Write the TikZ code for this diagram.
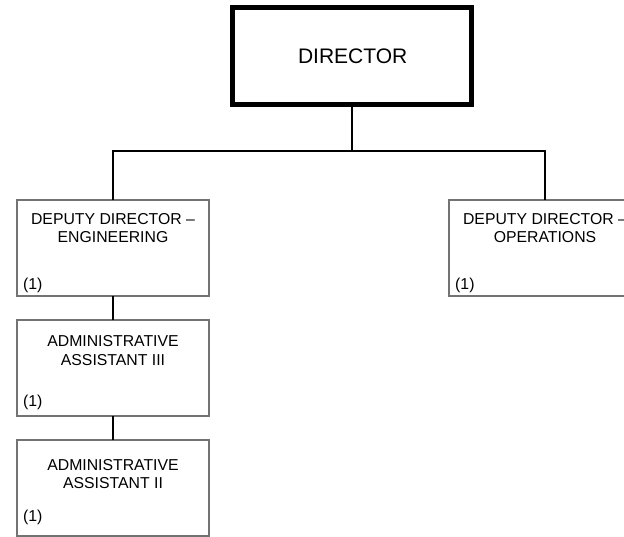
\documentclass[tikz,border=0pt]{standalone}
\usepackage{fontspec}
\setmainfont{Liberation Sans}
\begin{document}
\begin{tikzpicture}[x=1bp,y=-1bp,
  box/.style={draw=black!55,line width=1.3bp,minimum width=192bp,minimum height=96bp,inner sep=0pt,outer sep=0pt},
  topbox/.style={draw=black,line width=5bp,minimum width=239.5bp,minimum height=96.5bp,inner sep=0pt,outer sep=0pt},
  conn/.style={draw=black,line width=1.8bp},
  txt/.style={anchor=base,inner sep=0pt,font=\fontsize{15.86}{19}\selectfont},
  num/.style={anchor=base west,inner sep=0pt,font=\fontsize{15.86}{19}\selectfont},
  bigtxt/.style={anchor=base,inner sep=0pt,font=\fontsize{21.1}{25}\selectfont}]
\useasboundingbox (0,0) rectangle (624,537);
\clip (0,0) rectangle (624,537);
% boxes
\node[topbox] (dir) at (352.2,55.8) {};
\node[box] (eng) at (113,248) {};
\node[box] (ops) at (545,248) {};
\node[box] (aa3) at (113,368) {};
\node[box] (aa2) at (113,488) {};
% connectors
\coordinate (hub) at (352.2,151);
\draw[conn] (dir.south) -- (hub);
\draw[conn] (eng.north) |- (hub);
\draw[conn] (hub) -| (ops.north);
\draw[conn] (eng.south) -- (aa3.north);
\draw[conn] (aa3.south) -- (aa2.north);
% texts
\node[bigtxt] (dirT) at (352.7,63.3) {DIRECTOR};
\node[txt] (engT1) at (113,224.3) {DEPUTY DIRECTOR –};
\node[txt] (engT2) at (113,242.7) {ENGINEERING};
\node[num] (engN) at (23,289.5) {(1)};
\node[txt] (opsT1) at (545,224.3) {DEPUTY DIRECTOR –};
\node[txt] (opsT2) at (545,242.7) {OPERATIONS};
\node[num] (opsN) at (455,289.5) {(1)};
\node[txt] (aa3T1) at (113,346.7) {ADMINISTRATIVE};
\node[txt] (aa3T2) at (113,365.7) {ASSISTANT III};
\node[num] (aa3N) at (23,406) {(1)};
\node[txt] (aa2T1) at (113,470) {ADMINISTRATIVE};
\node[txt] (aa2T2) at (113,488.3) {ASSISTANT II};
\node[num] (aa2N) at (23,521.7) {(1)};
\end{tikzpicture}
\end{document}
